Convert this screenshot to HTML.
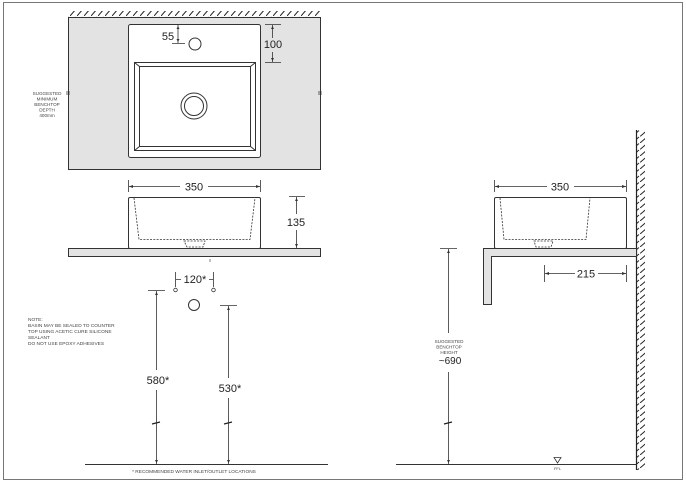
<!DOCTYPE html>
<html><head><meta charset="utf-8"><style>
html,body{margin:0;padding:0;background:#fff;}
svg{display:block;font-family:"Liberation Sans",Arial,sans-serif;}
</style></head><body>
<svg width="686" height="483" viewBox="0 0 686 483" xmlns="http://www.w3.org/2000/svg">
<defs>
<pattern id="hh" width="7" height="8" patternUnits="userSpaceOnUse"><path d="M0,8 L6,1" stroke="#222" stroke-width="1"/></pattern>
<pattern id="hv" width="8" height="6.5" patternUnits="userSpaceOnUse"><path d="M0,6.5 L7,0.5" stroke="#222" stroke-width="1"/></pattern>
</defs>
<rect x="3.5" y="2.5" width="679" height="477" fill="none" stroke="#777" stroke-width="1"/>

<!-- TOP VIEW -->
<rect x="68" y="11" width="252" height="6" fill="url(#hh)"/>
<rect x="68.5" y="17.5" width="252" height="152" fill="#e3e3e3" stroke="#333" stroke-width="1"/>
<rect x="128.5" y="24.5" width="132" height="133" rx="2" fill="#fff" stroke="#333"/>
<rect x="134.5" y="62.5" width="121" height="88" fill="#fff" stroke="#333"/>
<rect x="139.5" y="66.5" width="111" height="80" fill="none" stroke="#333"/>
<path d="M134.5,62.5 L139.5,66.5 M255.5,62.5 L250.5,66.5 M134.5,150.5 L139.5,146.5 M255.5,150.5 L250.5,146.5" stroke="#333"/>
<circle cx="194" cy="106" r="13" fill="none" stroke="#333"/>
<circle cx="194" cy="106" r="9.5" fill="none" stroke="#333"/>
<circle cx="195" cy="44" r="6" fill="#fff" stroke="#333"/>
<path d="M178,25 V43 M172,43.5 H185" stroke="#333" stroke-width="0.8"/>
<path d="M178,26 l-1.5,3 h3z M178,42 l-1.5,-3 h3z" fill="#333"/>
<text x="168" y="40" font-size="11" text-anchor="middle" fill="#222">55</text>
<path d="M265,24.5 H281 M265,62.5 H281 M272.5,25 V38 M272.5,52 V62" stroke="#333" stroke-width="0.8"/>
<path d="M272.5,26 l-1.5,3 h3z M272.5,61 l-1.5,-3 h3z" fill="#333"/>
<text x="273" y="48" font-size="11" text-anchor="middle" fill="#222">100</text>
<g font-size="4.6" fill="#444" text-anchor="middle">
<text x="47" y="95">SUGGESTED</text><text x="47" y="100.5">MINIMUM</text><text x="47" y="106">BENCHTOP</text><text x="47" y="111.5">DEPTH</text><text x="47" y="117">400mm</text></g>
<path d="M66,92 H70 M66,94 H70 M318,92 H322 M318,94 H322" stroke="#333" stroke-width="0.8"/>

<!-- FRONT VIEW -->
<path d="M128.5,180 V192 M260.5,180 V192" stroke="#333" stroke-width="0.8"/>
<path d="M129,186.5 H180 M208,186.5 H260" stroke="#333" stroke-width="0.8"/>
<path d="M129,186.5 l4,-1.5 v3z M260,186.5 l-4,-1.5 v3z" fill="#333"/>
<text x="194" y="190.5" font-size="11" text-anchor="middle" fill="#222">350</text>
<rect x="128.5" y="197.5" width="132" height="51" rx="1.5" fill="#fff" stroke="#333"/>
<path d="M134,198 L139,239.5 H250 L255,198" fill="none" stroke="#333" stroke-width="0.8" stroke-dasharray="2,1.3"/>
<path d="M184,241 H205 L203,247 H187z" fill="none" stroke="#333" stroke-width="0.8" stroke-dasharray="2,1.3"/>
<rect x="68.5" y="248.5" width="252" height="8" fill="#e3e3e3" stroke="#333"/>
<path d="M289,196.5 H305 M296.5,197 V214 M296.5,230 V248" stroke="#333" stroke-width="0.8"/>
<path d="M296.5,198 l-1.5,3 h3z M296.5,247 l-1.5,-3 h3z" fill="#333"/>
<text x="296" y="226" font-size="11" text-anchor="middle" fill="#222">135</text>
<path d="M210,259 V262" stroke="#333" stroke-width="0.6"/>

<!-- SERVICES -->
<path d="M175.5,272 V287 M213.5,272 V287 M176,279.5 H181 M209,279.5 H213" stroke="#333" stroke-width="0.8"/>
<text x="195" y="283" font-size="11" text-anchor="middle" fill="#222">120*</text>
<circle cx="175.5" cy="290" r="1.8" fill="#fff" stroke="#333" stroke-width="0.8"/>
<circle cx="213.5" cy="290" r="1.8" fill="#fff" stroke="#333" stroke-width="0.8"/>
<circle cx="194" cy="305" r="5.5" fill="#fff" stroke="#333"/>
<path d="M148,290.5 H165 M156.5,291 V370 M156.5,390 V464" stroke="#333" stroke-width="0.8"/>
<path d="M156.5,292 l-1.5,3 h3z M156.5,463 l-1.5,-3 h3z" fill="#333"/>
<path d="M152,424 L160,422" stroke="#222" stroke-width="1.3"/>
<text x="158" y="384" font-size="11" text-anchor="middle" fill="#222">580*</text>
<path d="M220,305.5 H237 M228.5,306 V378 M228.5,398 V464" stroke="#333" stroke-width="0.8"/>
<path d="M228.5,307 l-1.5,3 h3z M228.5,463 l-1.5,-3 h3z" fill="#333"/>
<path d="M224,424 L232,422" stroke="#222" stroke-width="1.3"/>
<text x="230" y="392" font-size="11" text-anchor="middle" fill="#222">530*</text>
<path d="M85,464.5 H328" stroke="#333" stroke-width="1"/>
<text x="194" y="473" font-size="4.8" text-anchor="middle" fill="#444">* RECOMMENDED WATER INLET/OUTLET LOCATIONS</text>
<g font-size="4.8" fill="#444">
<text x="28" y="321">NOTE:</text><text x="28" y="327">BASIN MAY BE SEALED TO COUNTER</text><text x="28" y="333">TOP USING ACETIC CURE SILICONE</text><text x="28" y="339">SEALANT</text><text x="28" y="345">DO NOT USE EPOXY ADHESIVES</text></g>

<!-- SIDE VIEW -->
<rect x="637" y="130" width="8" height="340" fill="url(#hv)"/>
<path d="M636.5,130 V470" stroke="#222" stroke-width="1.2"/>
<path d="M494.5,180 V192 M626.5,180 V192" stroke="#333" stroke-width="0.8"/>
<path d="M495,186.5 H547 M574,186.5 H626" stroke="#333" stroke-width="0.8"/>
<path d="M495,186.5 l4,-1.5 v3z M626,186.5 l-4,-1.5 v3z" fill="#333"/>
<text x="560" y="190.5" font-size="11" text-anchor="middle" fill="#222">350</text>
<rect x="494.5" y="197.5" width="132" height="51" rx="1.5" fill="#fff" stroke="#333"/>
<path d="M500,198 L504,239.5 H586 L590,198" fill="none" stroke="#333" stroke-width="0.8" stroke-dasharray="2,1.3"/>
<path d="M534,241 H553 L551,247 H536z" fill="none" stroke="#333" stroke-width="0.8" stroke-dasharray="2,1.3"/>
<path d="M483.5,248.5 H636.5 V256.5 H491.5 V304.5 H483.5 Z" fill="#e3e3e3" stroke="#333"/>
<path d="M544.5,265 V282 M626.5,265 V282 M545,273.5 H575 M598,273.5 H626" stroke="#333" stroke-width="0.8"/>
<path d="M545,273.5 l4,-1.5 v3z M626,273.5 l-4,-1.5 v3z" fill="#333"/>
<text x="586" y="277.5" font-size="11" text-anchor="middle" fill="#222">215</text>
<path d="M440,248.5 H457 M448.5,249 V333 M448.5,372 V464" stroke="#333" stroke-width="0.8"/>
<path d="M448.5,250 l-1.5,3 h3z M448.5,463 l-1.5,-3 h3z" fill="#333"/>
<path d="M444,424 L452,422" stroke="#222" stroke-width="1.3"/>
<g font-size="4.6" fill="#444" text-anchor="middle"><text x="449" y="343">SUGGESTED</text><text x="449" y="348.5">BENCHTOP</text><text x="449" y="354">HEIGHT</text></g>
<text x="450" y="364" font-size="10" text-anchor="middle" fill="#222">~690</text>
<path d="M396,464.5 H637" stroke="#333" stroke-width="1"/>
<path d="M554,457.5 H561 L557.5,463z" fill="#fff" stroke="#333" stroke-width="0.8"/>
<text x="557.5" y="470" font-size="4" text-anchor="middle" fill="#444">FFL</text>
</svg>
</body></html>
